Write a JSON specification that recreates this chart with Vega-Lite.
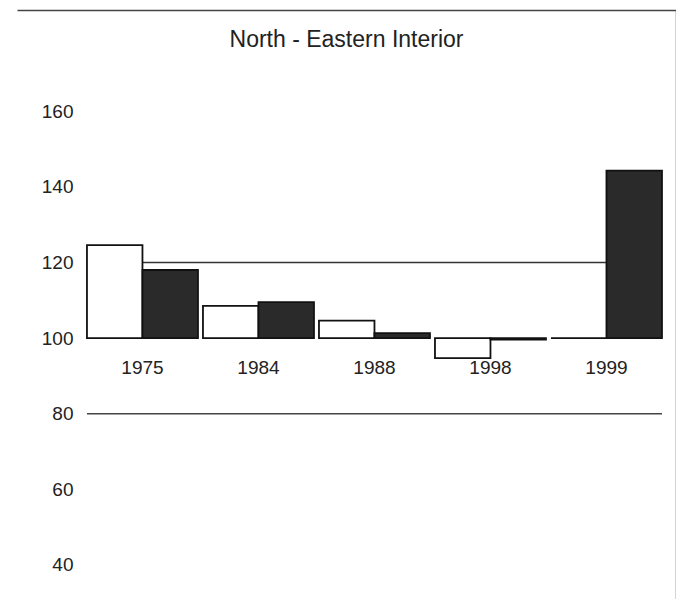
{
  "$schema": "https://vega.github.io/schema/vega-lite/v6.json",
  "width": 659,
  "height": 589,
  "autosize": {"type": "none"},
  "padding": {"left": 17, "top": 10, "right": 0, "bottom": 0},
  "background": "white",
  "config": {"view": {"stroke": null}, "font": "Liberation Sans"},
  "title": {
    "text": "North - Eastern Interior",
    "fontSize": 23,
    "fontWeight": "normal",
    "color": "#222",
    "anchor": "middle",
    "frame": "group",
    "baseline": "alphabetic",
    "offset": -60
  },
  "datasets": {
    "bars": [
      {"year": "1975", "series": "A", "value": 124.6},
      {"year": "1975", "series": "B", "value": 118.0},
      {"year": "1984", "series": "A", "value": 108.5},
      {"year": "1984", "series": "B", "value": 109.5},
      {"year": "1988", "series": "A", "value": 104.6},
      {"year": "1988", "series": "B", "value": 101.3},
      {"year": "1998", "series": "A", "value": 94.7},
      {"year": "1998", "series": "B", "value": 99.6},
      {"year": "1999", "series": "A", "value": 100.0},
      {"year": "1999", "series": "B", "value": 144.3}
    ],
    "line80": [{"v": 80, "from": "1975", "to": "1999"}],
    "line120": [{"v": 120, "from": "1975", "to": "1999"}]
  },
  "layer": [
    {
      "data": {"name": "line80"},
      "mark": {"type": "rule", "color": "#444", "strokeWidth": 1.5},
      "encoding": {
        "x": {
          "field": "from", "type": "nominal", "bandPosition": 0,
          "scale": {"paddingInner": 0.0431, "paddingOuter": 0.362, "align": 0.833},
          "axis": {"orient": "top", "domain": true, "domainColor": "#444", "domainWidth": 1.5, "labels": false, "ticks": false, "grid": false, "title": null}
        },
        "x2": {"field": "to", "bandPosition": 1},
        "y": {
          "field": "v", "type": "quantitative",
          "scale": {"domain": [30.95, 186.8], "nice": false, "zero": false},
          "axis": {"orient": "right", "domain": true, "domainColor": "#555", "domainWidth": 1.5, "labels": false, "ticks": false, "grid": false, "title": null}
        }
      }
    },
    {
      "data": {"name": "line120"},
      "mark": {"type": "rule", "color": "#333", "strokeWidth": 1.5},
      "encoding": {
        "x": {"field": "from", "type": "nominal", "bandPosition": 0.5, "axis": null},
        "x2": {"field": "to", "bandPosition": 0.5},
        "y": {"field": "v", "type": "quantitative", "axis": null}
      }
    },
    {
      "data": {"name": "bars"},
      "mark": {"type": "bar", "stroke": "#111", "strokeWidth": 1.8},
      "encoding": {
        "x": {
          "field": "year", "type": "nominal",
          "axis": {"orient": "bottom", "offset": -261, "domain": false, "ticks": false, "grid": false, "labelFontSize": 19, "labelPadding": 20, "labelColor": "#222", "labelAngle": 0, "title": null}
        },
        "xOffset": {"field": "series", "type": "nominal", "scale": {"paddingInner": 0, "paddingOuter": 0}},
        "y": {
          "field": "value", "type": "quantitative",
          "axis": {"orient": "left", "offset": -70, "values": [40, 60, 80, 100, 120, 140, 160], "domain": false, "ticks": false, "grid": false, "labelFontSize": 19, "labelPadding": 14, "labelColor": "#222", "title": null}
        },
        "y2": {"datum": 100},
        "fill": {
          "field": "series", "type": "nominal",
          "scale": {"domain": ["A", "B"], "range": ["#ffffff", "#2a2a2a"]},
          "legend": null
        }
      }
    }
  ],
  "resolve": {"axis": {"x": "independent", "y": "independent"}}
}
